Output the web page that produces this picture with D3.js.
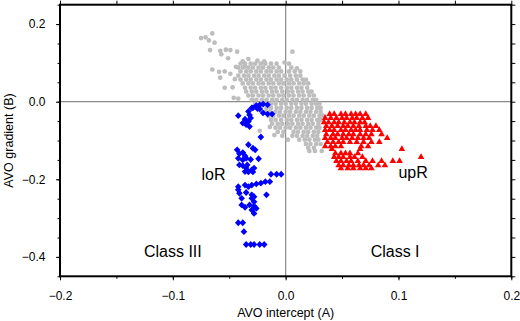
<!DOCTYPE html>
<html>
<head>
<meta charset="utf-8">
<script src="https://cdn.jsdelivr.net/npm/d3@7"></script>
<style>
  body { margin: 0; background: #fff; }
  svg { display: block; font-family: "Liberation Sans", Arial, Helvetica, sans-serif; }
</style>
</head>
<body>
<svg id="chart" width="520" height="321"></svg>
<script>
// background population (grey dots), intercept A vs gradient B
var grayPts = [
    [-0.075,0.164],[-0.071,0.166],[-0.065,0.176],[-0.068,0.158],[-0.063,0.152],[-0.067,0.133],[-0.058,0.131],
    [-0.053,0.134],[-0.049,0.133],[-0.043,0.129],[-0.057,0.122],[-0.051,0.112],[-0.038,0.104],[-0.033,0.110],
    [-0.025,0.106],[-0.019,0.104],[-0.065,0.083],[-0.059,0.077],[-0.054,0.078],[-0.058,0.062],[-0.045,0.058],
    [-0.044,0.090],[-0.036,0.091],[-0.054,0.036],[-0.047,0.037],[-0.046,0.010],[-0.042,0.008],[-0.049,0.072],
    [0.006,0.129],[-0.001,0.101],[0.010,0.086],
    [-0.040,0.098],[-0.036,0.098],[-0.031,0.098],[-0.027,0.098],[-0.022,0.098],[-0.018,0.098],[-0.013,0.098],[-0.008,0.098],[0.003,0.098],
    [-0.042,0.088],[-0.038,0.088],[-0.033,0.088],[-0.029,0.088],[-0.024,0.088],[-0.020,0.088],[-0.015,0.088],[-0.011,0.088],[-0.006,0.088],[0.005,0.088],
    [-0.040,0.078],[-0.035,0.078],[-0.031,0.078],[-0.026,0.078],[-0.022,0.078],[-0.017,0.078],[-0.013,0.078],[-0.008,0.078],[-0.004,0.078],[0.003,0.078],[0.008,0.078],[0.013,0.078],
    [-0.042,0.067],[-0.037,0.067],[-0.033,0.067],[-0.028,0.067],[-0.024,0.067],[-0.019,0.067],[-0.015,0.067],[-0.010,0.067],[-0.006,0.067],[-0.001,0.067],[0.004,0.067],[0.009,0.067],[0.013,0.067],
    [-0.040,0.057],[-0.035,0.057],[-0.031,0.057],[-0.026,0.057],[-0.022,0.057],[-0.017,0.057],[-0.013,0.057],[-0.008,0.057],[-0.004,0.057],[0.001,0.057],[0.005,0.057],[0.010,0.057],[0.015,0.057],[0.018,0.057],
    [-0.038,0.047],[-0.033,0.047],[-0.029,0.047],[-0.024,0.047],[-0.020,0.047],[-0.015,0.047],[-0.011,0.047],[-0.006,0.047],[-0.002,0.047],[0.003,0.047],[0.007,0.047],[0.012,0.047],[0.016,0.047],[0.020,0.047],
    [-0.036,0.036],[-0.031,0.036],[-0.027,0.036],[-0.022,0.036],[-0.018,0.036],[-0.013,0.036],[-0.009,0.036],[-0.004,0.036],[0.001,0.036],[0.005,0.036],[0.010,0.036],[0.014,0.036],[0.019,0.036],
    [-0.035,0.026],[-0.030,0.026],[-0.026,0.026],[-0.021,0.026],[-0.017,0.026],[-0.012,0.026],[-0.008,0.026],[-0.003,0.026],[0.002,0.026],[0.006,0.026],[0.011,0.026],[0.015,0.026],[0.020,0.026],[0.023,0.026],
    [-0.033,0.016],[-0.029,0.016],[-0.024,0.016],[-0.020,0.016],[-0.015,0.016],[-0.011,0.016],[-0.006,0.016],[-0.002,0.016],[0.003,0.016],[0.007,0.016],[0.012,0.016],[0.016,0.016],[0.021,0.016],[0.025,0.016],
    [-0.030,0.005],[-0.026,0.005],[-0.021,0.005],[-0.017,0.005],[-0.012,0.005],[-0.008,0.005],[-0.003,0.005],[0.001,0.005],[0.006,0.005],[0.010,0.005],[0.015,0.005],[0.019,0.005],[0.024,0.005],[0.027,0.005],
    [-0.027,-0.005],[-0.022,-0.005],[-0.018,-0.005],[-0.013,-0.005],[-0.009,-0.005],[-0.004,-0.005],[0.000,-0.005],[0.005,-0.005],[0.009,-0.005],[0.014,-0.005],[0.018,-0.005],[0.023,-0.005],[0.027,-0.005],[0.030,-0.005],
    [-0.022,-0.016],[-0.017,-0.016],[-0.013,-0.016],[-0.008,-0.016],[-0.004,-0.016],[0.001,-0.016],[0.005,-0.016],[0.010,-0.016],[0.014,-0.016],[0.019,-0.016],[0.023,-0.016],[0.028,-0.016],[0.031,-0.016],
    [-0.018,-0.026],[-0.014,-0.026],[-0.009,-0.026],[-0.005,-0.026],[0.000,-0.026],[0.004,-0.026],[0.009,-0.026],[0.013,-0.026],[0.018,-0.026],[0.022,-0.026],[0.027,-0.026],[0.031,-0.026],
    [-0.015,-0.036],[-0.011,-0.036],[-0.006,-0.036],[-0.002,-0.036],[0.003,-0.036],[0.007,-0.036],[0.012,-0.036],[0.016,-0.036],[0.021,-0.036],[0.025,-0.036],[0.030,-0.036],[0.033,-0.036],
    [-0.013,-0.047],[-0.009,-0.047],[-0.004,-0.047],[0.001,-0.047],[0.005,-0.047],[0.010,-0.047],[0.014,-0.047],[0.019,-0.047],[0.023,-0.047],[0.028,-0.047],[0.031,-0.047],
    [-0.012,-0.057],[-0.007,-0.057],[-0.003,-0.057],[0.002,-0.057],[0.006,-0.057],[0.011,-0.057],[0.015,-0.057],[0.020,-0.057],[0.024,-0.057],[0.029,-0.057],
    [-0.009,-0.067],[-0.005,-0.067],[0.000,-0.067],[0.004,-0.067],[0.009,-0.067],[0.013,-0.067],[0.018,-0.067],[0.022,-0.067],[0.027,-0.067],[0.030,-0.067],
    [-0.007,-0.078],[-0.002,-0.078],[0.007,-0.078],[0.011,-0.078],[0.016,-0.078],[0.020,-0.078],[0.025,-0.078],[0.029,-0.078],
    [-0.003,-0.088],[0.006,-0.088],[0.010,-0.088],[0.015,-0.088],[0.019,-0.088],[0.024,-0.088],[0.028,-0.088],
    [0.002,-0.098],[0.012,-0.098],[0.017,-0.098],[0.021,-0.098],[0.026,-0.098],[0.029,-0.098],
    [0.018,-0.109],[0.022,-0.109],[0.027,-0.109],[0.031,-0.109],
    [0.020,-0.119],[0.025,-0.119],[0.021,-0.127],[0.026,-0.127],[0.032,-0.127],
    [-0.023,-0.075],[-0.014,-0.065],[-0.010,-0.086]
];

// lower-impedance reflections (blue diamonds)
var loRPts = [
    [-0.023,-0.008],[-0.020,-0.006],[-0.016,-0.008],[-0.026,-0.010],[-0.030,-0.016],[-0.023,-0.019],[-0.033,-0.025],
    [-0.020,-0.029],[-0.016,-0.032],[-0.012,-0.032],[-0.042,-0.036],[-0.036,-0.045],[-0.033,-0.051],[-0.038,-0.055],
    [-0.035,-0.059],[-0.032,-0.064],[-0.031,-0.042],[-0.029,-0.016],[-0.025,-0.018],[-0.032,-0.034],
    [-0.022,-0.091],
    [-0.033,-0.111],[-0.029,-0.120],[-0.027,-0.124],[-0.043,-0.124],[-0.041,-0.134],[-0.038,-0.131],[-0.042,-0.146],
    [-0.038,-0.150],[-0.035,-0.146],[-0.036,-0.140],[-0.031,-0.149],[-0.024,-0.147],[-0.041,-0.163],[-0.038,-0.165],
    [-0.034,-0.163],[-0.035,-0.171],[-0.030,-0.176],[-0.028,-0.171],[-0.036,-0.180],[-0.033,-0.181],[-0.029,-0.181],
    [-0.013,-0.187],[-0.008,-0.187],[-0.004,-0.187],
    [-0.036,-0.215],[-0.033,-0.219],[-0.030,-0.215],[-0.026,-0.212],[-0.022,-0.210],[-0.018,-0.206],[-0.014,-0.206],
    [-0.042,-0.219],[-0.042,-0.227],[-0.041,-0.236],[-0.035,-0.234],[-0.030,-0.240],[-0.028,-0.245],[-0.017,-0.240],
    [-0.039,-0.249],[-0.030,-0.249],[-0.028,-0.258],[-0.039,-0.266],[-0.036,-0.272],[-0.032,-0.266],[-0.028,-0.269],
    [-0.026,-0.275],[-0.030,-0.279],[-0.028,-0.288],
    [-0.042,-0.312],[-0.038,-0.312],[-0.037,-0.335],
    [-0.035,-0.368],[-0.031,-0.368],[-0.028,-0.368],[-0.023,-0.368],[-0.019,-0.368]
];

// upper-impedance reflections (red triangles)
var upRPts = [
    [0.039,-0.031],[0.043,-0.031],[0.049,-0.031],[0.053,-0.031],[0.058,-0.031],[0.062,-0.031],[0.066,-0.031],[0.071,-0.031],
    [0.035,-0.041],[0.040,-0.041],[0.045,-0.041],[0.050,-0.041],[0.054,-0.041],[0.059,-0.041],[0.063,-0.041],[0.068,-0.041],[0.073,-0.041],
    [0.034,-0.052],[0.038,-0.052],[0.043,-0.052],[0.047,-0.052],[0.052,-0.052],[0.057,-0.052],[0.061,-0.052],[0.066,-0.052],[0.070,-0.052],
    [0.036,-0.062],[0.041,-0.062],[0.046,-0.062],[0.051,-0.062],[0.055,-0.062],[0.060,-0.062],[0.065,-0.062],[0.071,-0.062],[0.075,-0.062],[0.080,-0.062],
    [0.035,-0.072],[0.039,-0.072],[0.043,-0.072],[0.049,-0.072],[0.053,-0.072],[0.058,-0.072],[0.062,-0.072],[0.066,-0.072],[0.072,-0.072],[0.077,-0.072],[0.083,-0.072],
    [0.036,-0.083],[0.042,-0.083],[0.046,-0.083],[0.051,-0.083],[0.056,-0.083],[0.060,-0.083],[0.066,-0.083],[0.071,-0.083],[0.076,-0.083],[0.085,-0.083],
    [0.035,-0.093],[0.040,-0.093],[0.044,-0.093],[0.050,-0.093],[0.054,-0.093],[0.059,-0.093],[0.064,-0.093],[0.069,-0.093],[0.074,-0.093],[0.090,-0.093],
    [0.037,-0.103],[0.042,-0.103],[0.047,-0.103],[0.051,-0.103],[0.057,-0.103],[0.063,-0.103],[0.069,-0.103],[0.076,-0.103],[0.083,-0.103],
    [0.035,-0.114],[0.040,-0.114],[0.044,-0.114],[0.049,-0.114],[0.067,-0.114],[0.073,-0.114],
    [0.041,-0.121],[0.066,-0.121],[0.103,-0.121],
    [0.044,-0.132],[0.049,-0.132],[0.053,-0.132],[0.057,-0.132],[0.064,-0.132],
    [0.043,-0.142],[0.047,-0.142],[0.051,-0.142],[0.057,-0.142],[0.061,-0.142],[0.068,-0.142],[0.120,-0.142],
    [0.045,-0.152],[0.049,-0.152],[0.054,-0.152],[0.058,-0.152],[0.064,-0.152],[0.071,-0.152],[0.077,-0.152],[0.085,-0.152],[0.095,-0.152],[0.101,-0.152],
    [0.047,-0.163],[0.051,-0.163],[0.056,-0.163],[0.060,-0.163],[0.065,-0.163],[0.069,-0.163],[0.074,-0.163],[0.082,-0.163],[0.088,-0.163],
    [0.049,-0.171],[0.055,-0.171],[0.060,-0.171],[0.066,-0.171],[0.071,-0.171],[0.076,-0.171]
];

var xMajor = [-0.2, -0.1, 0.0, 0.1, 0.2];
var yMajor = [-0.4, -0.2, 0.0, 0.2];
var xMinor = [-0.2, -0.15, -0.1, -0.05, 0, 0.05, 0.1, 0.15, 0.2];
var yMinor = [-0.45, -0.4, -0.35, -0.3, -0.25, -0.2, -0.15, -0.1, -0.05, 0, 0.05, 0.1, 0.15, 0.2, 0.25];

// text annotations: [x, y, label]
var notes = [
    [-0.064, -0.202, "loR"],
    [0.113, -0.196, "upR"],
    [-0.100, -0.400, "Class III"],
    [0.097, -0.400, "Class I"]
];

var margin = {top: 4.7, right: 8.7, bottom: 44.7, left: 60},
    width = 520 - margin.left - margin.right,
    height = 321 - margin.top - margin.bottom;

var svg = d3.select("#chart");
var g = svg.append("g")
    .attr("transform", "translate(" + margin.left + "," + margin.top + ")");

var x = d3.scaleLinear().domain([-0.2, 0.2]).range([0, width]);
var y = d3.scaleLinear().domain([-0.45, 0.25]).range([height, 0]);
var fmt = d3.format(".1f");

/* zero lines */
g.append("line")
    .attr("x1", x(0)).attr("x2", x(0))
    .attr("y1", 0).attr("y2", height)
    .attr("stroke", "#8a8a8a").attr("stroke-width", 1.2);
g.append("line")
    .attr("x1", 0).attr("x2", width)
    .attr("y1", y(0)).attr("y2", y(0))
    .attr("stroke", "#8a8a8a").attr("stroke-width", 1.2);

/* points */
g.append("g").selectAll("circle")
    .data(grayPts)
    .enter().append("circle")
    .attr("cx", function(d) { return x(d[0]); })
    .attr("cy", function(d) { return y(d[1]); })
    .attr("r", 2.35)
    .attr("fill", "#bdbdbd");

var diamond = "M0,-3.4L3.3,0L0,3.4L-3.3,0Z";
g.append("g").selectAll("path")
    .data(loRPts)
    .enter().append("path")
    .attr("d", diamond)
    .attr("transform", function(d) { return "translate(" + x(d[0]) + "," + y(d[1]) + ")"; })
    .attr("fill", "#0000ff");

var triangle = "M0,-3.5L3.3,2.3L-3.3,2.3Z";
g.append("g").selectAll("path")
    .data(upRPts)
    .enter().append("path")
    .attr("d", triangle)
    .attr("transform", function(d) { return "translate(" + x(d[0]) + "," + y(d[1]) + ")"; })
    .attr("fill", "#ff0000");

/* axes */
function styleAxis(sel) {
    sel.select(".domain").remove();
    sel.selectAll(".tick line").attr("stroke", "#000").attr("stroke-width", 1);
    sel.selectAll("text").attr("font-size", "12px").attr("fill", "#000")
        .attr("font-family", "'Liberation Sans', Arial, Helvetica, sans-serif");
}

g.append("g").attr("transform", "translate(0," + height + ")")
    .call(d3.axisBottom(x).tickValues(xMinor).tickSize(2.5).tickFormat(""))
    .call(styleAxis);
g.append("g").attr("transform", "translate(0," + height + ")")
    .call(d3.axisBottom(x).tickValues(xMajor).tickSize(4).tickPadding(11).tickFormat(fmt))
    .call(styleAxis);
g.append("g")
    .call(d3.axisLeft(y).tickValues(yMinor).tickSize(2.5).tickFormat(""))
    .call(styleAxis);
g.append("g")
    .call(d3.axisLeft(y).tickValues(yMajor).tickSize(4).tickPadding(10.5).tickFormat(fmt))
    .call(styleAxis);
g.append("g")
    .call(d3.axisTop(x).tickValues(xMinor).tickSize(4).tickFormat(""))
    .call(styleAxis);
g.append("g").attr("transform", "translate(" + width + ",0)")
    .call(d3.axisRight(y).tickValues(yMinor).tickSize(4).tickFormat(""))
    .call(styleAxis);

/* frame */
g.append("rect")
    .attr("width", width).attr("height", height)
    .attr("fill", "none").attr("stroke", "#000").attr("stroke-width", 2);

/* annotations */
g.append("g").selectAll("text")
    .data(notes)
    .enter().append("text")
    .attr("x", function(d) { return x(d[0]); })
    .attr("y", function(d) { return y(d[1]); })
    .attr("text-anchor", "middle")
    .attr("font-size", "16px")
    .attr("fill", "#000")
    .text(function(d) { return d[2]; });

/* axis titles */
svg.append("text")
    .attr("x", margin.left + x(0))
    .attr("y", 316.7)
    .attr("text-anchor", "middle")
    .attr("font-size", "12.5px")
    .text("AVO intercept (A)");

svg.append("text")
    .attr("transform", "translate(12.7," + (margin.top + height / 2) + ")rotate(-90)")
    .attr("text-anchor", "middle")
    .attr("font-size", "12.5px")
    .text("AVO gradient (B)");
</script>
</body>
</html>
